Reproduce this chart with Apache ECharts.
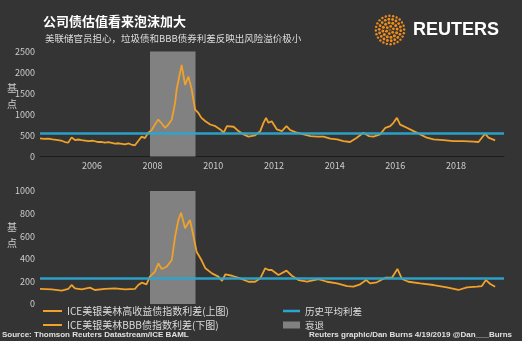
<!DOCTYPE html>
<html>
<head>
<meta charset="utf-8">
<script src="https://cdn.jsdelivr.net/npm/echarts@6/dist/echarts.min.js"></script>
<style>
html,body{margin:0;padding:0;background:#343434;}
#c{width:522px;height:341px;}
</style>
</head>
<body>
<div id="c"></div>
<script>
// ---- data ----
var hyDates = ['2004-04-16','2004-06-01','2004-07-24','2004-09-15','2004-11-21','2005-01-10','2005-02-10','2005-03-22','2005-05-01','2005-06-11','2005-07-20','2005-08-30','2005-10-10','2005-11-18','2006-01-15','2006-03-18','2006-04-20','2006-06-07','2006-07-20','2006-10-05','2006-11-20','2007-02-03','2007-03-20','2007-04-20','2007-06-03','2007-07-12','2007-08-23','2007-10-01','2007-11-10','2007-12-20','2008-01-30','2008-03-10','2008-04-20','2008-05-31','2008-07-09','2008-08-19','2008-09-28','2008-10-16','2008-11-25','2008-12-16','2009-01-26','2009-03-07','2009-04-13','2009-05-27','2009-07-05','2009-07-28','2009-08-11','2009-09-28','2009-10-12','2009-11-25','2010-01-26','2010-03-26','2010-05-05','2010-06-14','2010-09-03','2010-10-31','2011-01-01','2011-02-28','2011-05-19','2011-07-20','2011-08-28','2011-09-28','2011-10-27','2011-12-05','2012-02-06','2012-04-05','2012-05-31','2012-07-16','2012-10-05','2012-12-24','2013-03-14','2013-06-03','2013-08-19','2013-11-10','2014-01-30','2014-04-16','2014-07-05','2014-09-24','2014-12-13','2015-02-14','2015-04-13','2015-07-02','2015-09-03','2015-10-31','2015-12-09','2016-01-20','2016-02-28','2016-05-19','2016-08-08','2016-10-27','2017-01-15','2017-04-05','2017-08-04','2017-12-01','2018-04-01','2018-07-31','2018-09-28','2018-12-16','2019-01-26','2019-04-16'];
var hyValues = [432,420,425,410,392,370,345,330,455,392,405,392,380,368,375,345,350,330,340,307,315,290,310,285,267,368,472,439,566,628,762,880,786,684,762,880,1274,1588,1982,2178,1706,1902,1628,1116,1038,998,920,840,802,762,722,644,566,722,708,604,526,472,503,604,802,920,802,840,644,604,722,628,566,526,486,472,472,425,408,368,345,448,566,486,472,526,684,722,802,920,760,684,604,526,448,408,392,368,368,354,345,543,448,385];

var bbbDates = ['2004-04-16','2004-09-03','2005-01-01','2005-03-22','2005-05-01','2005-06-11','2005-08-30','2005-12-09','2006-02-06','2006-06-07','2006-10-05','2007-02-03','2007-06-03','2007-07-12','2007-08-23','2007-10-20','2007-11-29','2008-01-30','2008-03-10','2008-04-20','2008-06-18','2008-08-19','2008-09-28','2008-11-07','2008-12-09','2009-01-26','2009-03-26','2009-05-05','2009-06-14','2009-08-11','2009-09-28','2009-12-16','2010-03-03','2010-04-16','2010-05-27','2010-08-15','2010-11-21','2011-02-28','2011-05-19','2011-07-20','2011-09-17','2011-10-27','2011-12-05','2012-02-24','2012-05-31','2012-08-04','2012-10-23','2013-02-03','2013-06-21','2013-10-01','2014-01-30','2014-05-31','2014-08-15','2014-11-03','2015-01-15','2015-03-03','2015-05-23','2015-09-03','2015-11-21','2016-01-26','2016-03-22','2016-06-07','2016-10-27','2017-04-05','2017-09-13','2018-01-30','2018-05-12','2018-09-10','2018-11-07','2018-12-27','2019-02-17','2019-04-16'];
var bbbValues = [133,130,118,133,168,139,130,145,124,133,139,130,133,168,189,174,242,286,360,310,330,389,596,743,808,670,743,611,463,389,316,271,242,204,263,250,227,197,197,227,316,301,301,257,295,250,212,197,221,197,183,159,153,174,212,183,192,233,233,310,221,197,183,168,148,124,148,153,159,212,177,153];

var hyAverage = 560;
var bbbAverage = 226;
var recession = ['2007-12-01', '2009-06-01'];
var yearLabels = [2006, 2008, 2010, 2012, 2014, 2016, 2018];
var hyTicks = [0, 2500, 500];   // min, max, interval
var bbbTicks = [0, 1000, 200];
var xRange = ['2004-04-16', '2019-08-01'];

var seriesNames = ['ICE美银美林高收益债指数利差(上图)', 'ICE美银美林BBB债指数利差(下图)', '历史平均利差', '衰退'];

// ---- build ----
function ts(s) { return Date.parse(s + 'T00:00:00Z'); }
function zip(d, v) { return d.map(function (x, i) { return [ts(x), v[i]]; }); }
var ORANGE = '#f0a12a', BLUE = '#2aa6cf', GRAY = '#818181';
var FONT = '"Noto Sans CJK SC", "Open Sans", sans-serif';
var yearStarts = yearLabels.map(function (y) { return Date.UTC(y, 0, 1); });

function markArea() {
  return { silent: true, itemStyle: { color: GRAY, opacity: 1 },
    data: [[{ xAxis: ts(recession[0]) }, { xAxis: ts(recession[1]) }]] };
}
function markLine(v) {
  return { silent: true, symbol: 'none', z: 5, label: { show: false },
    lineStyle: { color: BLUE, width: 2.5, type: 'solid', opacity: 0.95 }, data: [{ yAxis: v }] };
}
function plain(v) { return String(v); }

// logo dots
var logo = [];
var rings = [[0, 1, 1.6], [3.6, 6, 1.4], [7.2, 12, 1.5], [10.8, 18, 1.4], [14.2, 24, 1.2]];
rings.forEach(function (r) {
  for (var i = 0; i < r[1]; i++) {
    var a = i / r[1] * Math.PI * 2 + r[0] * 0.2;
    logo.push({ type: 'circle', shape: { cx: 390 + r[0] * Math.cos(a), cy: 30 + r[0] * Math.sin(a), r: r[2] },
      style: { fill: r[0] === 0 ? '#8a5a1e' : '#f08c1c' }, silent: true });
  }
});

var legendText = { color: '#dddddd', fontSize: 10, lineHeight: 12, fontFamily: FONT };
var legendText2 = { color: '#dddddd', fontSize: 9.5, lineHeight: 12, fontFamily: FONT };

var chart = echarts.init(document.getElementById('c'), null, { renderer: 'canvas' });
chart.setOption({
  backgroundColor: '#343434',
  animation: false,
  textStyle: { fontFamily: FONT },
  title: [
    { text: '公司债估值看来泡沫加大', left: 38, top: 10,
      textStyle: { color: '#ffffff', fontSize: 13, fontWeight: 'bold', fontFamily: FONT } },
    { text: '美联储官员担心，垃圾债和BBB债券利差反映出风险溢价极小', left: 40, top: 29,
      textStyle: { color: '#dddddd', fontSize: 9.5, fontWeight: 'normal', fontFamily: FONT } }
  ],
  grid: [
    { left: 40, right: 18, top: 51.5, height: 105 },
    { left: 40, right: 18, top: 191, height: 113 }
  ],
  xAxis: [
    { type: 'value', gridIndex: 0, min: ts(xRange[0]), max: ts(xRange[1]),
      axisLine: { show: true, lineStyle: { color: '#1c1c1c', width: 1 } },
      axisTick: { show: false }, splitLine: { show: false },
      axisLabel: { customValues: yearStarts, color: '#cccccc', fontSize: 9, margin: 5, fontFamily: FONT,
        formatter: function (v) { return String(new Date(v).getUTCFullYear()); } } },
    { type: 'value', gridIndex: 1, min: ts(xRange[0]), max: ts(xRange[1]),
      axisLine: { show: false }, axisTick: { show: false }, splitLine: { show: false }, axisLabel: { show: false } }
  ],
  yAxis: [
    { type: 'value', gridIndex: 0, min: hyTicks[0], max: hyTicks[1], interval: hyTicks[2],
      axisLine: { show: false }, axisTick: { show: false }, splitLine: { show: false },
      axisLabel: { color: '#cccccc', fontSize: 9, margin: 5, fontFamily: FONT, formatter: plain } },
    { type: 'value', gridIndex: 1, min: bbbTicks[0], max: bbbTicks[1], interval: bbbTicks[2],
      axisLine: { show: false }, axisTick: { show: false }, splitLine: { show: false },
      axisLabel: { color: '#cccccc', fontSize: 9, margin: 5, fontFamily: FONT, formatter: plain } }
  ],
  legend: [
    { data: [seriesNames[0], seriesNames[1]], orient: 'vertical', left: 43, top: 305, padding: 0, icon: 'rect',
      itemWidth: 19, itemHeight: 2, itemGap: 2, selectedMode: false, textStyle: legendText },
    { data: [seriesNames[2]], left: 283, top: 305, padding: 0, icon: 'rect', itemWidth: 17, itemHeight: 2.5,
      selectedMode: false, textStyle: legendText2 },
    { data: [seriesNames[3]], left: 283, top: 319, padding: 0, icon: 'rect', itemWidth: 17, itemHeight: 7,
      selectedMode: false, textStyle: legendText2 }
  ],
  series: [
    { name: seriesNames[0], type: 'line', xAxisIndex: 0, yAxisIndex: 0, data: zip(hyDates, hyValues),
      showSymbol: false, color: ORANGE, lineStyle: { color: ORANGE, width: 1.8 },
      markArea: markArea(), markLine: markLine(hyAverage) },
    { name: seriesNames[1], type: 'line', xAxisIndex: 1, yAxisIndex: 1, data: zip(bbbDates, bbbValues),
      showSymbol: false, color: ORANGE, lineStyle: { color: ORANGE, width: 1.8 },
      markArea: markArea(), markLine: markLine(bbbAverage) },
    { name: seriesNames[2], type: 'line', xAxisIndex: 0, yAxisIndex: 0, data: [], color: BLUE },
    { name: seriesNames[3], type: 'bar', xAxisIndex: 0, yAxisIndex: 0, data: [], color: GRAY }
  ],
  graphic: logo.concat([
    { type: 'text', left: 413, top: 21, silent: true,
      style: { text: 'REUTERS', fill: '#ffffff', font: 'bold 18px "Liberation Sans", Arial, sans-serif' } },
    { type: 'text', left: 7, top: 80, silent: true,
      style: { text: '基\n点', fill: '#cccccc', fontSize: 10, lineHeight: 16, fontFamily: FONT } },
    { type: 'text', left: 7, top: 219, silent: true,
      style: { text: '基\n点', fill: '#cccccc', fontSize: 10, lineHeight: 16, fontFamily: FONT } },
    { type: 'text', left: 2, top: 331, silent: true,
      style: { text: 'Source: Thomson Reuters Datastream/ICE BAML', fill: '#e0e0e0',
        font: 'bold 8px "Liberation Sans", Arial, sans-serif' } },
    { type: 'text', right: 10, top: 331, silent: true,
      style: { text: 'Reuters graphic/Dan Burns 4/19/2019 @Dan___Burns', fill: '#e0e0e0',
        font: 'bold 8px "Liberation Sans", Arial, sans-serif' } }
  ])
});
</script>
</body>
</html>
